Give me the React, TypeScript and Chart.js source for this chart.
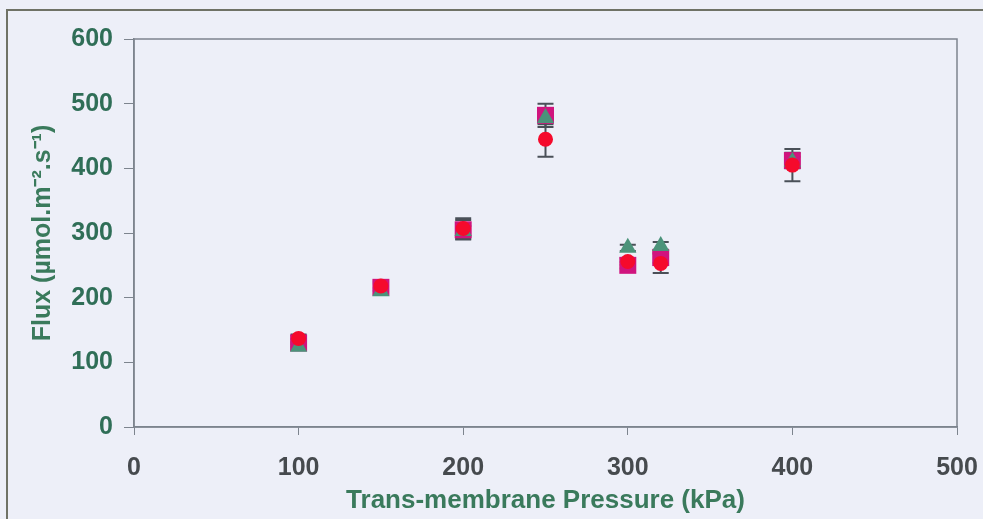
import React, { useEffect, useRef } from "react";
import { Chart, registerables } from "chart.js";

Chart.register(...registerables);

const pressures = [100, 150, 200, 250, 300, 320, 400];
const fluxCircle = [137, 218, 307, 445, 256, 253, 405];
const fluxSquare = [130, 216, 305, 482, 250, 262, 412];
const fluxTriangle = [124, 210, 303, 478, 277, 280, 410];
const errCircle = [6, 7, 16, 27, 5, 15, 25];
const errSquare = [6, 6, 15, 18, 5, 8, 12];
const errTriangle = [4, 5, 8, 10, 5, 6, 8];

const xTitle = "Trans-membrane Pressure (kPa)";
const yTitle = "Flux (\u00b5mol.m\u207b\u00b2.s\u207b\u00b9)";

const FONT = "'Liberation Sans', Arial, sans-serif";
const GREEN = "#2f6e57";
const AXIS = "#7d848e";

const framePlugin = {
  id: "frame",
  beforeDraw(chart: any) {
    const { ctx, width, height } = chart;
    ctx.save();
    ctx.fillStyle = "#edeff8";
    ctx.fillRect(0, 0, width, height);
    ctx.strokeStyle = "#6f7266";
    ctx.lineWidth = 2;
    ctx.beginPath();
    ctx.moveTo(7, height);
    ctx.lineTo(7, 10);
    ctx.lineTo(width, 10);
    ctx.stroke();
    ctx.restore();
  },
  beforeDatasetsDraw(chart: any) {
    const { ctx, chartArea } = chart;
    ctx.save();
    ctx.strokeStyle = AXIS;
    ctx.lineWidth = 1.5;
    ctx.strokeRect(chartArea.left, chartArea.top, chartArea.right - chartArea.left, chartArea.bottom - chartArea.top);
    const xs = chart.scales.x;
    const ys = chart.scales.y;
    ctx.strokeStyle = "#4a5058";
    ctx.lineWidth = 2;
    chart.data.datasets.forEach((ds: any) => {
      const errs: number[] = ds.errors || [];
      ds.data.forEach((p: any, i: number) => {
        const e = errs[i];
        if (!e) return;
        const px = xs.getPixelForValue(p.x);
        const yt = ys.getPixelForValue(p.y + e);
        const yb = ys.getPixelForValue(p.y - e);
        ctx.beginPath();
        ctx.moveTo(px, yt);
        ctx.lineTo(px, yb);
        ctx.moveTo(px - 8, yt);
        ctx.lineTo(px + 8, yt);
        ctx.moveTo(px - 8, yb);
        ctx.lineTo(px + 8, yb);
        ctx.stroke();
      });
    });
    ctx.restore();
  },
};

function toPoints(ys: number[]) {
  return pressures.map((x, i) => ({ x, y: ys[i] }));
}

export default function App() {
  const ref = useRef<HTMLCanvasElement | null>(null);
  useEffect(() => {
    document.body.style.margin = "0";
    const canvas = ref.current;
    if (!canvas) return;
    const chart = new Chart(canvas, {
      type: "scatter",
      data: {
        datasets: [
          {
            label: "circle",
            data: toPoints(fluxCircle),
            errors: errCircle,
            pointStyle: "circle",
            pointRadius: 7.5,
            backgroundColor: "#f50a2c",
            borderColor: "#f50a2c",
            borderWidth: 0,
          } as any,
          {
            label: "triangle",
            data: toPoints(fluxTriangle),
            errors: errTriangle,
            pointStyle: "triangle",
            pointRadius: 10,
            backgroundColor: "#4b937a",
            borderColor: "#4b937a",
            borderWidth: 0,
          } as any,
          {
            label: "square",
            data: toPoints(fluxSquare),
            errors: errSquare,
            pointStyle: "rect",
            pointRadius: 12,
            backgroundColor: "#d0147e",
            borderColor: "#d0147e",
            borderWidth: 0,
          } as any,
        ],
      },
      options: {
        responsive: false,
        animation: false,
        layout: { padding: { left: 0, top: 39, right: 26, bottom: 0 } },
        plugins: { legend: { display: false }, tooltip: { enabled: false } },
        scales: {
          x: {
            type: "linear",
            min: 0,
            max: 500,
            ticks: {
              stepSize: 100,
              padding: 18,
              color: "#464a4e",
              font: { family: FONT, size: 25, weight: "bold" },
            },
            grid: { drawOnChartArea: false, drawTicks: true, tickLength: 8, color: AXIS },
            border: { display: true, color: AXIS, width: 1.5 },
            title: {
              display: true,
              text: xTitle,
              color: "#3a7a5c",
              font: { family: FONT, size: 26, weight: "bold" },
              padding: { top: 0, bottom: 3 },
            },
            afterFit(scale: any) {
              scale.height = 92;
              scale.paddingLeft = 0;
              scale.paddingRight = 0;
            },
          },
          y: {
            type: "linear",
            min: 0,
            max: 600,
            ticks: {
              stepSize: 100,
              padding: 11,
              color: GREEN,
              font: { family: FONT, size: 25, weight: "bold" },
            },
            grid: { drawOnChartArea: false, drawTicks: true, tickLength: 10, color: AXIS },
            border: { display: true, color: AXIS, width: 1.5 },
            title: {
              display: true,
              text: yTitle,
              color: "#3a7a5c",
              font: { family: FONT, size: 25, weight: "bold" },
              padding: { top: 28, bottom: 0 },
            },
            afterFit(scale: any) {
              scale.width = 134;
              scale.paddingTop = 0;
              scale.paddingBottom = 0;
            },
          },
        },
      } as any,
      plugins: [framePlugin],
    });
    return () => chart.destroy();
  }, []);
  return (
    <div style={{ width: 983, height: 519, position: "relative" }}>
      <canvas ref={ref} width={983} height={519} style={{ display: "block" }} />
    </div>
  );
}
